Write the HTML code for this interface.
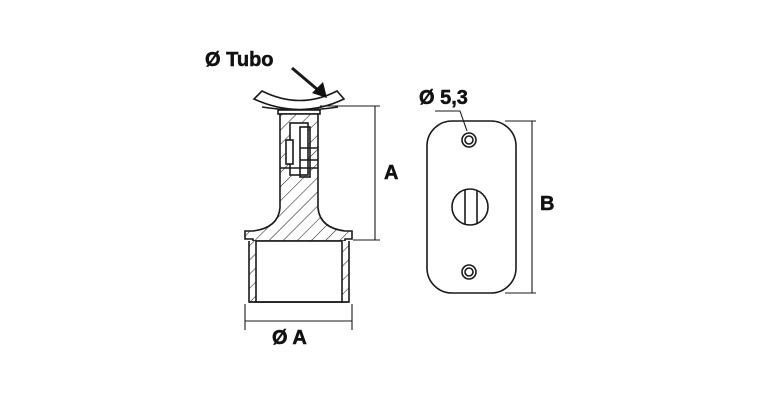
<!DOCTYPE html>
<html><head><style>
html,body{margin:0;padding:0;background:#fff;}
svg{display:block}
text{font-family:"Liberation Sans",sans-serif;font-weight:bold;fill:#111;stroke:#111;stroke-width:0.5}
</style></head><body>
<svg width="768" height="400" viewBox="0 0 768 400" xmlns="http://www.w3.org/2000/svg">
<defs>
<pattern id="h" patternUnits="userSpaceOnUse" width="10" height="10" patternTransform="rotate(45)">
<rect width="10" height="10" fill="#fff"/>
<line x1="0" y1="0" x2="0" y2="10" stroke="#222" stroke-width="1.1"/>
</pattern>
</defs>
<g stroke="#1a1a1a" stroke-width="1.6" fill="none">
<!-- saddle -->
<path d="M254 99 L262 91 Q300 110 337 91 L344 99 Q300 120 254 99 Z" fill="#fff"/>
<path d="M262 107 Q300 113 338 107" />
<rect x="278" y="110" width="42" height="4" fill="#fff"/>
<!-- stem + flare hatched -->
<path d="M280 114 L318 114 L318 208 Q320 228 345 231 L352 231 L352 239 L345 239 L345 241 L253 241 L253 239 L245 239 L245 231 L253 231 Q278 228 280 208 Z" fill="url(#h)"/>
<!-- inner insert details -->
<rect x="290" y="123" width="18" height="52" fill="#fff"/>
<rect x="286" y="140" width="7" height="24" fill="#fff"/>
<rect x="300" y="127" width="10" height="50" fill="none"/>
<line x1="300" y1="148" x2="318" y2="148"/>
<line x1="300" y1="160" x2="318" y2="160"/>
<line x1="280" y1="168" x2="318" y2="168"/>
<!-- cup -->
<path d="M249 241 L249 302 L349 302 L349 241" fill="url(#h)"/>
<rect x="256" y="241" width="86" height="61" fill="#fff"/>
<line x1="249" y1="302" x2="349" y2="302"/>
<!-- dimension A -->
<g stroke-width="1.1">
<line x1="320" y1="106" x2="380" y2="106"/>
<line x1="353" y1="240" x2="380" y2="240"/>
<line x1="375" y1="106" x2="375" y2="240"/>
<line x1="245" y1="304" x2="245" y2="330"/>
<line x1="352" y1="304" x2="352" y2="330"/>
<line x1="245" y1="321" x2="352" y2="321"/>
</g>
<!-- arrow Ø Tubo -->
<line x1="292" y1="68" x2="318" y2="90" stroke-width="3"/>
</g>
<polygon points="312,93 323,82 327,98" fill="#111"/>
<text x="205" y="66" font-size="20">Ø Tubo</text>
<text x="384" y="179" font-size="20">A</text>
<text x="272" y="344" font-size="20">Ø A</text>
<!-- plate -->
<g stroke="#1a1a1a" stroke-width="1.6" fill="none">
<rect x="427" y="121" width="89" height="172" rx="25" ry="25"/>
<circle cx="469" cy="140" r="7"/>
<circle cx="469" cy="140" r="4"/>
<circle cx="469" cy="272" r="7"/>
<circle cx="469" cy="272" r="4"/>
<circle cx="470" cy="207" r="18"/>
<line x1="465" y1="190" x2="465" y2="224"/>
<line x1="477" y1="190" x2="477" y2="224"/>
<g stroke-width="1.1">
<line x1="505" y1="121" x2="536" y2="121"/>
<line x1="505" y1="293" x2="536" y2="293"/>
<line x1="532" y1="121" x2="532" y2="293"/>
<polyline points="435,111 460,111 467,131"/>
</g>
</g>
<text x="419" y="104" font-size="20">Ø 5,3</text>
<text x="540" y="210" font-size="20">B</text>
</svg>
</body></html>
